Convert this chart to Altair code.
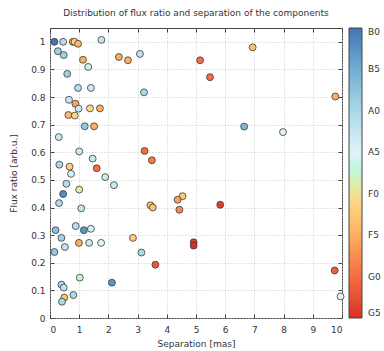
import altair as alt
import pandas as pd

separation = [0.15, 0.45, 0.78, 0.84, 0.96, 1.76, 0.27, 0.47, 1.13, 1.31, 2.36, 2.67, 3.08, 5.14, 6.94, 5.48, 9.77,
              6.65, 7.98, 0.59, 0.96, 1.40, 3.22, 0.65, 0.87, 0.98, 1.37, 1.71, 0.63, 0.85, 1.19, 1.51, 0.30, 1.00,
              3.24, 3.49, 1.46, 0.32, 0.67, 1.60, 0.72, 1.89, 2.19, 0.56, 1.00, 0.45, 4.54, 4.37, 3.44, 3.52, 4.43,
              0.31, 1.07, 0.88, 0.19, 1.16, 1.40, 0.39, 2.84, 0.99, 1.34, 1.75, 0.51, 0.15, 3.13, 4.92, 4.92, 3.61,
              1.02, 2.12, 0.39, 0.47, 0.49, 0.80, 0.41, 5.83, 9.75, 9.95]
flux_ratio = [1.00, 1.00, 1.00, 1.00, 0.993, 1.007, 0.966, 0.952, 0.935, 0.909, 0.945, 0.933, 0.956, 0.933, 0.980,
              0.872, 0.802, 0.693, 0.673, 0.884, 0.833, 0.833, 0.817, 0.790, 0.776, 0.758, 0.759, 0.759, 0.735,
              0.733, 0.694, 0.694, 0.655, 0.603, 0.605, 0.571, 0.577, 0.555, 0.548, 0.542, 0.522, 0.510, 0.481,
              0.486, 0.465, 0.449, 0.441, 0.428, 0.408, 0.400, 0.392, 0.416, 0.397, 0.333, 0.318, 0.318, 0.323,
              0.290, 0.290, 0.272, 0.272, 0.272, 0.257, 0.239, 0.237, 0.274, 0.262, 0.193, 0.146, 0.128, 0.121,
              0.110, 0.074, 0.083, 0.059, 0.410, 0.172, 0.078]
spectral_type = ["B0", "A1", "F4", "F1", "F4", "A2", "B9", "B9", "F5", "A7", "F5", "F5", "A2", "G0", "F3", "G0",
                 "F5", "B6", "A5", "B9", "A1", "A3", "A0", "A3", "F6", "A3", "F1", "F5", "F4", "F1", "B8", "F5",
                 "A3", "A3", "G0", "F9", "A3", "A0", "F2", "G0", "A6", "A3", "A3", "A1", "A9", "B2", "F2", "F6",
                 "F3", "F3", "F8", "A0", "A2", "A1", "B7", "B3", "A6", "B9", "F2", "F5", "A3", "A5", "A2", "B8",
                 "A0", "G4", "G5", "G2", "A8", "B3", "A0", "A2", "F3", "A0", "A0", "G4", "G1", "A5"]

tick_names = ["B0", "B5", "A0", "A5", "F0", "F5", "G0", "G5"]
tick_colors = ["#4575b4", "#74add1", "#abd9e9", "#e0f3f8", "#fee090", "#fdae61", "#f46d43", "#d73027"]
x_ticks = list(range(0, 11))
y_ticks = [round(i * 0.1, 1) for i in range(0, 11)]

cls_off = {"B": 0, "A": 10, "F": 20, "G": 30}
df = pd.DataFrame({
    "sep": separation,
    "flux": flux_ratio,
    "spt": spectral_type,
})
df["code"] = [35 - (cls_off[s[0]] + int(s[1:])) for s in spectral_type]

font = "DejaVu Sans"
xs = alt.Scale(domain=[0, 10], nice=False, zero=False)
ys = alt.Scale(domain=[0, 1.05], nice=False, zero=False)

legend_vals = [35 - 5 * i for i in range(8)]
label_expr = "{" + ",".join(f"'{35 - 5 * i}':'{n}'" for i, n in enumerate(tick_names)) + "}[datum.value]"

pts = alt.Chart(df).mark_circle(size=48, stroke="#3a3a3a", strokeWidth=0.8, opacity=1).encode(
    x=alt.X("sep:Q", scale=xs, axis=alt.Axis(values=x_ticks, title="Separation [mas]", grid=True,
                                              gridDash=[1, 2], gridColor="#c8c8c8", tickSize=0, domain=False,
                                              labelPadding=7, titlePadding=5, format="d")),
    y=alt.Y("flux:Q", scale=ys, axis=alt.Axis(values=y_ticks, title="Flux ratio [arb.u.]", grid=True,
                                               gridDash=[1, 2], gridColor="#c8c8c8", tickSize=0, domain=False,
                                               labelPadding=5, titlePadding=12, format="~g")),
    fill=alt.Fill("code:Q", scale=alt.Scale(domain=[0, 5, 10, 15, 20, 25, 30, 35],
                                            range=tick_colors[::-1]),
                  legend=alt.Legend(title=None, values=legend_vals, labelExpr=label_expr,
                                    gradientLength=290, gradientThickness=13, offset=6,
                                    gradientStrokeColor="#444", gradientStrokeWidth=1,
                                    labelBaseline="middle", labelOffset=6, labelFontSize=9,
                                    labelFont=font, labelColor="#333")),
)


def tick_layer(xo, yo):
    return alt.Chart(df).mark_circle(opacity=0).encode(
        x=alt.X("sep:Q", scale=xs, axis=alt.Axis(orient=xo, values=x_ticks, offset=-4, tickSize=4,
                                                  labels=False, domain=False, grid=False, title=None,
                                                  tickColor="#444")),
        y=alt.Y("flux:Q", scale=ys, axis=alt.Axis(orient=yo, values=y_ticks, offset=-4, tickSize=4,
                                                   labels=False, domain=False, grid=False, title=None,
                                                   tickColor="#444")),
    )


chart = alt.layer(pts, tick_layer("bottom", "left"), tick_layer("top", "right")).resolve_scale(
    x="independent", y="independent"
).properties(
    width=292, height=290,
    title=alt.Title("Distribution of flux ratio and separation of the components", fontSize=9,
                    fontWeight="normal", font=font, color="#333", offset=10),
    autosize=alt.AutoSizeParams(type="none"),
    padding={"left": 50, "top": 28, "right": 42, "bottom": 33},
).configure_view(
    stroke="#444", strokeWidth=1
).configure_axis(
    labelFont=font, titleFont=font, labelFontSize=9, titleFontSize=9,
    labelColor="#333", titleColor="#333", titleFontWeight="normal"
)

chart.save("out.html", embed_options={"renderer": "svg", "actions": False})
